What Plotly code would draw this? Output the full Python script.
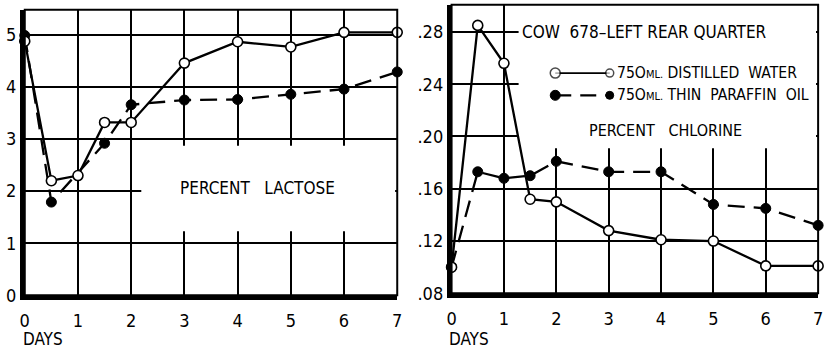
import plotly.graph_objects as go

# Days after infusion
days_water = [0, 0.5, 1, 1.5, 2, 3, 4, 5, 6, 7]
days_oil = [0, 0.5, 1.5, 2, 3, 4, 5, 6, 7]
days_cl = [0, 0.5, 1, 1.5, 2, 3, 4, 5, 6, 7]

# Percent lactose
lactose_water = [4.88, 2.2, 2.3, 3.32, 3.32, 4.46, 4.87, 4.77, 5.05, 5.05]
lactose_oil = [4.99, 1.79, 2.92, 3.66, 3.75, 3.76, 3.86, 3.96, 4.29]

# Percent chlorine
chlorine_water = [0.100, 0.285, 0.256, 0.152, 0.150, 0.128, 0.121, 0.120, 0.101, 0.101]
chlorine_oil = [0.100, 0.173, 0.168, 0.170, 0.181, 0.173, 0.173, 0.148, 0.145, 0.132]

x_ticks = [0, 1, 2, 3, 4, 5, 6, 7]
lac_ticks = [0, 1, 2, 3, 4, 5]
cl_ticks = [0.08, 0.12, 0.16, 0.20, 0.24, 0.28]
cl_labels = [".08", ".12", ".16", ".20", ".24", ".28"]

FONT = "DejaVu Sans Condensed, sans-serif"
INK = "#000000"

W, H = 833, 349

def px_x(p):
    return p / W

def px_y(p):
    return 1 - p / H

fig = go.Figure()

open_marker = dict(symbol="circle", size=10, color="white", line=dict(color=INK, width=1.6))
filled_marker = dict(symbol="circle", size=10, color=INK, line=dict(color=INK, width=1))
dash = "17px,9px"

# Left: lactose
fig.add_trace(go.Scatter(x=days_oil, y=lactose_oil, mode="lines+markers",
                         line=dict(color=INK, width=2.3, dash=dash), marker=filled_marker,
                         xaxis="x", yaxis="y", showlegend=False, cliponaxis=False))
fig.add_trace(go.Scatter(x=days_water, y=lactose_water, mode="lines+markers",
                         line=dict(color=INK, width=2.3), marker=open_marker,
                         xaxis="x", yaxis="y", showlegend=False, cliponaxis=False))

# Right: chlorine
fig.add_trace(go.Scatter(x=days_cl, y=chlorine_oil, mode="lines+markers",
                         line=dict(color=INK, width=2.3, dash=dash), marker=filled_marker,
                         xaxis="x2", yaxis="y2", showlegend=False, cliponaxis=False))
fig.add_trace(go.Scatter(x=days_cl, y=chlorine_water, mode="lines+markers",
                         line=dict(color=INK, width=2.3), marker=open_marker,
                         xaxis="x2", yaxis="y2", showlegend=False, cliponaxis=False))

# Legend keys drawn inside the chlorine panel
key_x = [1.98, 3.02]
fig.add_trace(go.Scatter(x=key_x, y=[0.2485, 0.2485], mode="lines+markers",
                         line=dict(color=INK, width=1.6),
                         marker=dict(symbol="circle", size=[10, 8], color="white",
                                     line=dict(color=INK, width=1.5)),
                         xaxis="x2", yaxis="y2", showlegend=False, hoverinfo="skip"))
fig.add_trace(go.Scatter(x=key_x, y=[0.2315, 0.2315], mode="lines",
                         line=dict(color=INK, width=2.2, dash="16px,9px"),
                         xaxis="x2", yaxis="y2", showlegend=False, hoverinfo="skip"))
fig.add_trace(go.Scatter(x=key_x, y=[0.2315, 0.2315], mode="markers",
                         marker=dict(symbol="circle", size=[10, 8], color=INK, opacity=1,
                                     line=dict(color=INK, width=1)),
                         xaxis="x2", yaxis="y2", showlegend=False, hoverinfo="skip"))

grid = dict(showgrid=True, gridcolor=INK, gridwidth=1.8, zeroline=False,
            showline=True, linecolor=INK, linewidth=4.5, ticks="",
            tickfont=dict(family=FONT, size=18, color=INK), fixedrange=True)

fig.update_layout(
    width=W, height=H,
    margin=dict(l=0, r=0, t=0, b=0),
    paper_bgcolor="white", plot_bgcolor="white",
    xaxis=dict(grid, domain=[px_x(20), px_x(397)], range=[0, 7], tickvals=x_ticks,
               ticktext=[str(v) for v in x_ticks], anchor="y", ticklabelstandoff=5),
    yaxis=dict(grid, domain=[px_y(304), px_y(10)], range=[0, 5.485], tickvals=lac_ticks,
               ticktext=[str(v) for v in lac_ticks], anchor="x", ticklabelstandoff=0),
    xaxis2=dict(grid, domain=[px_x(452), px_x(823)], range=[0, 7], tickvals=x_ticks,
                ticktext=[str(v) for v in x_ticks], anchor="y2", ticklabelstandoff=5),
    yaxis2=dict(grid, domain=[px_y(302), px_y(5)], range=[0.08, 0.3007], tickvals=cl_ticks,
                ticktext=cl_labels, anchor="x2", ticklabelstandoff=0),
)

shapes = [
    # clear areas behind the panel titles (grid gaps)
    dict(type="rect", xref="x", yref="y", x0=2.19, x1=6.96, y0=1.23, y1=2.87,
         fillcolor="white", line=dict(width=0), layer="between"),
    dict(type="rect", xref="x2", yref="y2", x0=1.28, x1=6.96, y0=0.191, y1=0.3007,
         fillcolor="white", line=dict(width=0), layer="between"),
    # panel frames
    dict(type="rect", xref="x domain", yref="y domain", x0=0, x1=1, y0=0, y1=1,
         line=dict(color=INK, width=2), layer="above"),
    dict(type="rect", xref="x2 domain", yref="y2 domain", x0=0, x1=1, y0=0, y1=1,
         line=dict(color=INK, width=2), layer="above"),
]
fig.update_layout(shapes=shapes)

txt = dict(family=FONT, size=17, color=INK)
key_txt = dict(family=FONT, size=15.6, color=INK)
sm = "<span style='font-size:11px'>ML.</span>"
annotations = [
    dict(x=4.38, y=2.07, xref="x", yref="y", text="PERCENT\u00a0\u00a0 LACTOSE",
         showarrow=False, font=txt, xanchor="center", yanchor="middle"),
    dict(x=1.3, y=0.28, xref="x2", yref="y2", text="COW\u00a0 678\u2013LEFT REAR QUARTER",
         showarrow=False, font=txt, xanchor="left", yanchor="middle"),
    dict(x=3.13, y=0.2485, xref="x2", yref="y2", text="75O" + sm + " DISTILLED\u00a0 WATER",
         showarrow=False, font=key_txt, xanchor="left", yanchor="middle"),
    dict(x=3.13, y=0.2315, xref="x2", yref="y2", text="75O" + sm + " THIN\u00a0 PARAFFIN\u00a0 OIL",
         showarrow=False, font=key_txt, xanchor="left", yanchor="middle"),
    dict(x=4.08, y=0.2049, xref="x2", yref="y2", text="PERCENT\u00a0\u00a0 CHLORINE",
         showarrow=False, font=dict(txt, size=16), xanchor="center", yanchor="middle"),
    dict(x=px_x(16), y=px_y(349), xref="paper", yref="paper", text="DAYS",
         showarrow=False, font=txt, xanchor="left", yanchor="middle"),
    dict(x=px_x(447), y=px_y(349), xref="paper", yref="paper", text="DAYS",
         showarrow=False, font=txt, xanchor="left", yanchor="middle"),
]
fig.update_layout(annotations=annotations)

fig.write_html("out.html")
